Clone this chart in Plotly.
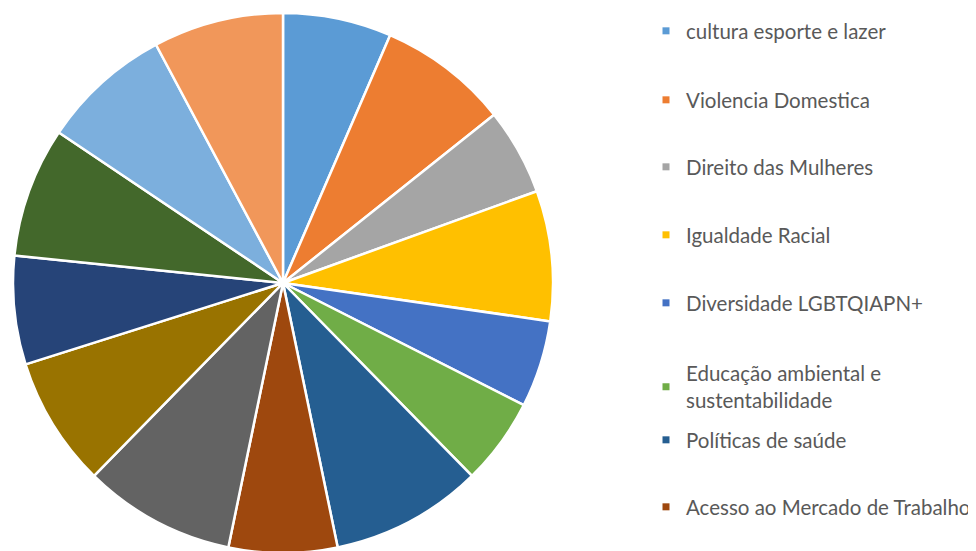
import plotly.graph_objects as go

W, H = 976, 551
OFF = 8  # page offset of the plot inside the browser window

labels = [
    "cultura esporte e lazer",
    "Violencia Domestica",
    "Direito das Mulheres",
    "Igualdade Racial",
    "Diversidade LGBTQIAPN+",
    "Educação ambiental e<br>sustentabilidade",
    "Políticas de saúde",
    "Acesso ao Mercado de Trabalho",
    "Educação",
    "Assistência Social",
    "Segurança Pública",
    "Habitação",
    "Mobilidade Urbana",
    "Direitos Humanos",
]
values = [5, 6, 4, 6, 4, 4, 7, 5, 7, 6, 5, 6, 6, 6]
colors = ["#5B9BD5", "#ED7D31", "#A5A5A5", "#FFC000", "#4472C4", "#70AD47",
          "#255E91", "#9E480E", "#636363", "#997300", "#264478", "#43682B",
          "#7CAFDD", "#F1975A"]

# visible legend entries (the rest fall outside the picture)
n_legend = 8
legend_centers_px = [32, 101, 168, 236, 304, 388, 441, 508]

fig = go.Figure()
fig.add_trace(go.Pie(
    labels=labels, values=values, sort=False, direction="clockwise", rotation=0,
    marker=dict(colors=colors, line=dict(color="white", width=2.5)),
    textinfo="none", showlegend=False,
    domain=dict(x=[(13 - OFF) / W, (553 - OFF) / W],
                y=[1 - (553 - OFF) / H, 1 - (13 - OFF) / H]),
))

layout_legends = {}
for i in range(n_legend):
    key = "legend" if i == 0 else f"legend{i + 1}"
    fig.add_trace(go.Scatter(
        x=[None], y=[None], mode="markers", name=labels[i],
        marker=dict(symbol="square", size=7, color=colors[i]),
        legend=key, showlegend=True, hoverinfo="skip",
    ))
    layout_legends[key] = dict(
        x=(686 - 40 - OFF) / W, y=1 - (legend_centers_px[i] - 1 - OFF) / H,
        xanchor="left", yanchor="middle",
        font=dict(family="Lato", size=20.5, color="#595959"),
        bgcolor="rgba(0,0,0,0)", borderwidth=0,
    )

fig.update_layout(
    width=W, height=H, margin=dict(l=0, r=0, t=0, b=0),
    paper_bgcolor="white", plot_bgcolor="white",
    xaxis=dict(visible=False), yaxis=dict(visible=False),
    **layout_legends,
)

fig.write_html("out.html")
